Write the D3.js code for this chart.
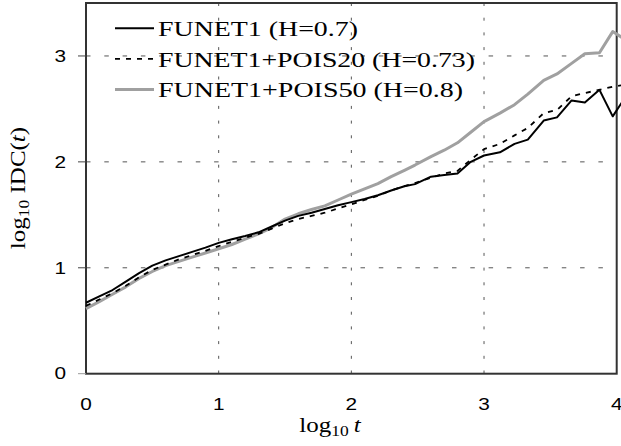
<!DOCTYPE html>
<html>
<head>
<meta charset="utf-8">
<script src="https://cdn.jsdelivr.net/npm/d3@7"></script>
<style>
  body { margin: 0; background: #fff; }
  svg { display: block; }
</style>
</head>
<body>
<div id="chart"></div>
<script>
// log10 t sample points
const logT = [0, 0.1, 0.2, 0.3, 0.4, 0.5, 0.6, 0.7, 0.8, 0.9, 1.0, 1.1, 1.2, 1.3, 1.4, 1.5,
  1.6, 1.7, 1.8, 1.9, 2.0, 2.1, 2.2, 2.3, 2.4, 2.48, 2.6, 2.7, 2.8, 2.9, 3.0, 3.12,
  3.23, 3.33, 3.45, 3.55, 3.66, 3.76, 3.87, 3.97, 4.07]

// log10 IDC(t)
const funet1 = [0.67, 0.73, 0.79, 0.87, 0.95, 1.02, 1.07, 1.11, 1.15, 1.19, 1.235, 1.27, 1.30, 1.335, 1.39, 1.445,
  1.49, 1.52, 1.555, 1.59, 1.62, 1.65, 1.685, 1.73, 1.77, 1.79, 1.86, 1.875, 1.89, 2.0, 2.06, 2.09,
  2.17, 2.21, 2.39, 2.42, 2.58, 2.56, 2.68, 2.43, 2.62]
const pois20 = [0.64, 0.70, 0.76, 0.83, 0.91, 0.98, 1.03, 1.08, 1.12, 1.16, 1.205, 1.245, 1.285, 1.32, 1.37, 1.42,
  1.46, 1.49, 1.52, 1.56, 1.60, 1.64, 1.68, 1.73, 1.77, 1.80, 1.85, 1.89, 1.915, 2.02, 2.12, 2.17,
  2.25, 2.32, 2.46, 2.49, 2.62, 2.65, 2.68, 2.71, 2.73]
const pois50 = [0.615, 0.68, 0.75, 0.82, 0.90, 0.965, 1.02, 1.06, 1.10, 1.14, 1.18, 1.22, 1.27, 1.32, 1.38, 1.46,
  1.51, 1.55, 1.585, 1.64, 1.695, 1.745, 1.795, 1.86, 1.92, 1.97, 2.05, 2.11, 2.18, 2.28, 2.38, 2.46,
  2.54, 2.64, 2.77, 2.83, 2.93, 3.02, 3.03, 3.23, 3.15]

const seriesNames = ["FUNET1 (H=0.7)", "FUNET1+POIS20 (H=0.73)", "FUNET1+POIS50 (H=0.8)"]
const xTicks = [0, 1, 2, 3, 4]
const yTicks = [0, 1, 2, 3]

const W = 621, H = 446
const plotL = 86, plotR = 616.7, plotT = 3, plotB = 373.7

const svg = d3.select("#chart").append("svg")
  .attr("width", W).attr("height", H)

const x = d3.scaleLinear().domain([0, 4]).range([plotL, plotR])
const y = d3.scaleLinear().domain([0, 3.5]).range([plotB, plotT])

// grid
svg.append("g").selectAll("line")
  .data(yTicks.slice(1))
  .enter().append("line")
    .attr("x1", plotL).attr("x2", plotR)
    .attr("y1", d => y(d)).attr("y2", d => y(d))
    .style("stroke", "#555").style("stroke-width", 1)
    .style("stroke-dasharray", "4.5,13.8")
svg.append("g").selectAll("line")
  .data(xTicks.slice(1, 4))
  .enter().append("line")
    .attr("x1", d => x(d)).attr("x2", d => x(d))
    .attr("y1", plotT).attr("y2", plotB)
    .style("stroke", "#555").style("stroke-width", 1)
    .style("stroke-dasharray", "3,11.7")

// frame
svg.append("rect")
  .attr("x", plotL).attr("y", plotT)
  .attr("width", plotR - plotL).attr("height", plotB - plotT)
  .style("fill", "none").style("stroke", "#333").style("stroke-width", 2)

// y ticks
svg.append("g").selectAll("line")
  .data(yTicks)
  .enter().append("line")
    .attr("x1", plotL - 8).attr("x2", plotL)
    .attr("y1", d => y(d)).attr("y2", d => y(d))
    .style("stroke", (d, i) => i === 0 ? "#999" : "#444").style("stroke-width", 1)

const sx = 1.3
svg.append("g").selectAll("text")
  .data(yTicks)
  .enter().append("text")
    .attr("transform", d => `translate(66,${y(d)}) scale(${sx},1)`)
    .attr("dy", "0.36em")
    .attr("text-anchor", "end")
    .style("font-family", "'Liberation Sans', Arial, sans-serif")
    .style("font-size", "16px")
    .text(d => d)

svg.append("g").selectAll("text")
  .data(xTicks)
  .enter().append("text")
    .attr("transform", d => `translate(${x(d)},409.5) scale(${sx},1)`)
    .attr("text-anchor", "middle")
    .style("font-family", "'Liberation Sans', Arial, sans-serif")
    .style("font-size", "16px")
    .text(d => d)

// lines
const line = d3.line()
  .x((d, i) => x(logT[i]))
  .y(d => y(d))

const styles = [
  { data: funet1, color: "#000", width: 2, dash: null },
  { data: pois20, color: "#000", width: 1.8, dash: "5,6" },
  { data: pois50, color: "#a0a0a0", width: 3, dash: null }
]

svg.append("g").selectAll("path")
  .data([styles[2], styles[1], styles[0]])
  .enter().append("path")
    .attr("d", d => line(d.data))
    .style("fill", "none")
    .style("stroke", d => d.color)
    .style("stroke-width", d => d.width)
    .style("stroke-dasharray", d => d.dash)
    .style("stroke-linejoin", "round")

// legend
const legendWidths = [200, 317, 305]
const legend = svg.append("g").selectAll("g")
  .data(styles)
  .enter().append("g")
    .attr("transform", (d, i) => `translate(115,${28.3 + i * 30.6})`)
legend.append("line")
  .attr("x1", 0).attr("x2", 39)
  .style("stroke", d => d.color)
  .style("stroke-width", d => d.width)
  .style("stroke-dasharray", d => d.dash)
legend.append("text")
  .attr("x", 43).attr("dy", "0.35em")
  .attr("textLength", (d, i) => legendWidths[i])
  .attr("lengthAdjust", "spacingAndGlyphs")
  .style("font-family", "'Liberation Serif', 'Times New Roman', serif")
  .style("font-size", "22px")
  .text((d, i) => seriesNames[i])

// axis titles
const xt = svg.append("text")
  .attr("transform", "translate(330,432) scale(1.25,1)")
  .attr("text-anchor", "middle")
  .style("font-family", "'Liberation Serif', 'Times New Roman', serif")
  .style("font-size", "20px")
xt.append("tspan").text("log")
xt.append("tspan").attr("dy", 4).style("font-size", "14px").text("10")
xt.append("tspan").attr("dy", -4).text("\u2009")
xt.append("tspan").style("font-style", "italic").text("t")

const yt = svg.append("text")
  .attr("transform", "translate(25,188) rotate(-90) scale(1.25,1)")
  .attr("text-anchor", "middle")
  .style("font-family", "'Liberation Serif', 'Times New Roman', serif")
  .style("font-size", "20px")
yt.append("tspan").text("log")
yt.append("tspan").attr("dy", 4).style("font-size", "14px").text("10")
yt.append("tspan").attr("dy", -4).text(" IDC(")
yt.append("tspan").style("font-style", "italic").text("t")
yt.append("tspan").text(")")
</script>
</body>
</html>
